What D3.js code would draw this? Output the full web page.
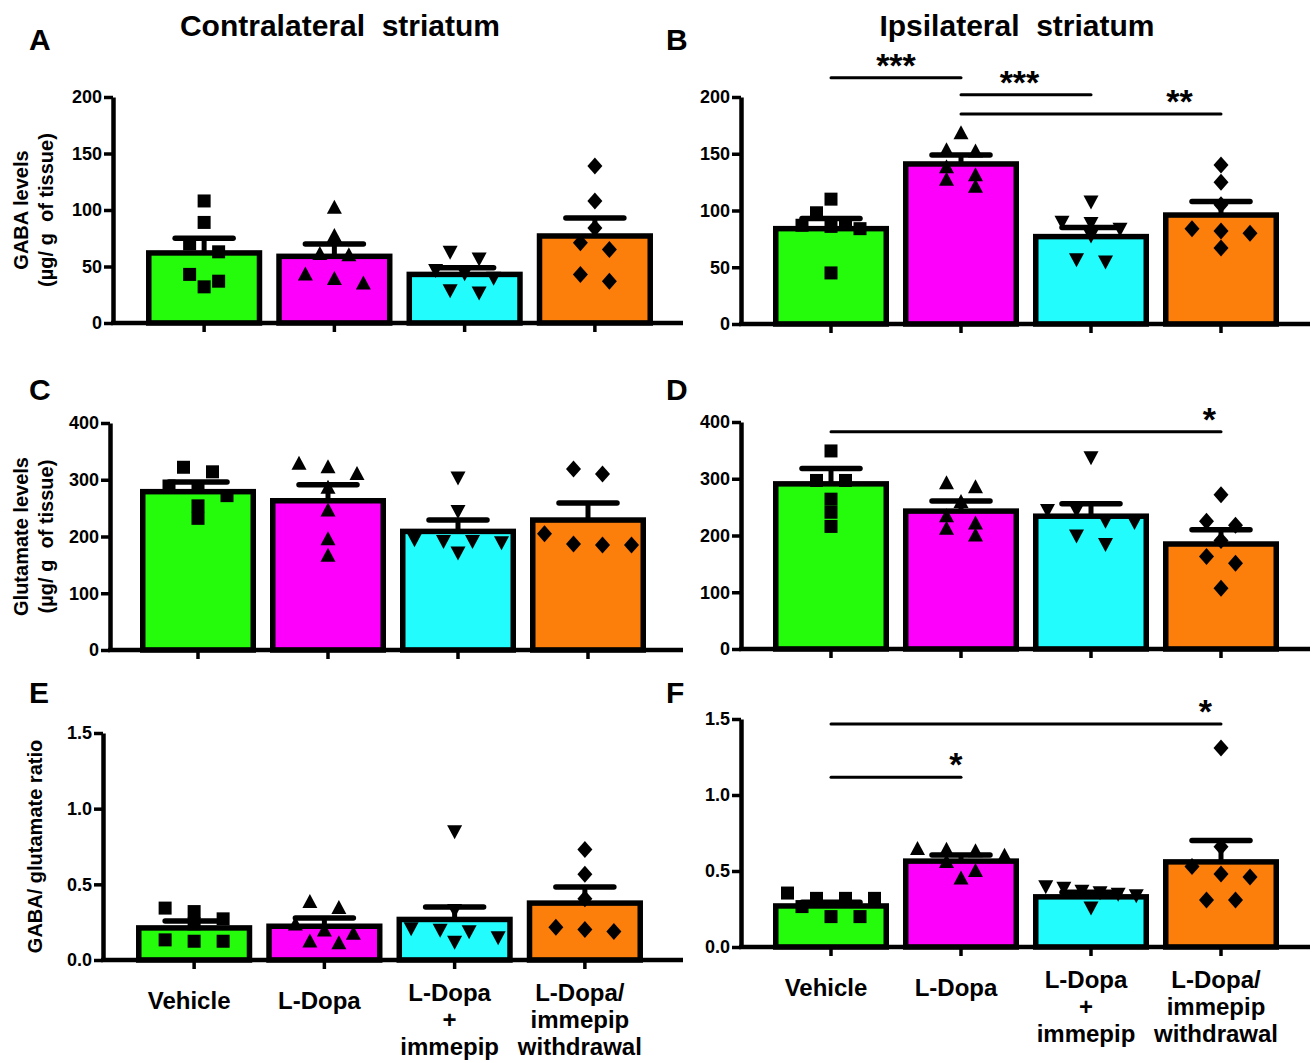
<!DOCTYPE html>
<html>
<head>
<meta charset="utf-8">
<script src="https://cdn.jsdelivr.net/npm/d3@7"></script>
<style>
  body { margin: 0; background: #fff; }
  svg { display: block; font-family: "Liberation Sans", Arial, Helvetica, sans-serif; font-weight: bold; }
</style>
</head>
<body>
<svg id="chart" width="1312" height="1063"></svg>
<script>
const groups = ["Vehicle", "L-Dopa", "L-Dopa\n+\nimmepip", "L-Dopa/\nimmepip\nwithdrawal"];
const fills = ["#24fc0c", "#fc00fc", "#22fcfc", "#fc7f0c"];
const markerKinds = ["square", "up", "down", "diamond"];

// GABA levels (ug/g tissue)
const gabaContraMean = [62, 59, 43, 77];
const gabaContraSem  = [13, 11, 6, 16];
const gabaContraPts  = [
    [108, 89, 70, 63, 43, 37, 32],
    [102, 77, 61, 60, 43, 39, 35],
    [63, 57, 47, 44, 40, 29, 27],
    [139, 108, 84, 71, 65, 43, 37]
];
const gabaIpsiMean = [84, 141, 77, 96];
const gabaIpsiSem  = [9, 8, 8, 12];
const gabaIpsiPts  = [
    [110, 98, 88, 87, 86, 84, 45],
    [168, 153, 152, 138, 131, 127, 121],
    [108, 90, 89, 84, 78, 57, 55],
    [140, 125, 105, 84, 82, 80, 67]
];

// Glutamate levels (ug/g tissue)
const glutContraMean = [279, 263, 209, 229];
const glutContraSem  = [17, 28, 20, 30];
const glutContraPts  = [
    [322, 314, 289, 287, 272, 254, 232],
    [328, 322, 310, 286, 246, 195, 166],
    [304, 245, 195, 192, 192, 190, 172],
    [319, 310, 205, 187, 185, 185]
];
const glutIpsiMean = [291, 243, 234, 185];
const glutIpsiSem  = [27, 18, 22, 25];
const glutIpsiPts  = [
    [349, 297, 297, 264, 241, 216],
    [292, 285, 259, 234, 221, 212, 200],
    [338, 245, 245, 226, 224, 200, 185],
    [272, 225, 218, 191, 163, 151, 107]
];

// GABA / glutamate ratio
const ratioContraMean = [0.212, 0.223, 0.268, 0.376];
const ratioContraSem  = [0.045, 0.054, 0.082, 0.106];
const ratioContraPts  = [
    [0.343, 0.32, 0.272, 0.239, 0.133, 0.124, 0.124],
    [0.383, 0.343, 0.235, 0.195, 0.173, 0.122, 0.11],
    [0.85, 0.33, 0.21, 0.2, 0.19, 0.15, 0.12],
    [0.73, 0.566, 0.405, 0.217, 0.201, 0.188]
];
const ratioIpsiMean = [0.27, 0.565, 0.33, 0.56];
const ratioIpsiSem  = [0.025, 0.04, 0.03, 0.14];
const ratioIpsiPts  = [
    [0.355, 0.32, 0.32, 0.32, 0.266, 0.2, 0.2],
    [0.645, 0.64, 0.63, 0.6, 0.56, 0.5, 0.45],
    [0.40, 0.39, 0.37, 0.36, 0.35, 0.34, 0.26],
    [1.31, 0.66, 0.53, 0.48, 0.46, 0.31, 0.31]
];

// significance brackets: group a -> group b at value y, star placed at fraction `at`
const sigGabaIpsi  = [
    { a: 0, b: 1, y: 217, label: "***", at: 0.5 },
    { a: 1, b: 2, y: 202, label: "***", at: 0.45 },
    { a: 1, b: 3, y: 185, label: "**",  at: 0.84 }
];
const sigGlutIpsi  = [{ a: 0, b: 3, y: 383, label: "*", at: 0.97 }];
const sigRatioIpsi = [
    { a: 0, b: 3, y: 1.467, label: "*", at: 0.96 },
    { a: 0, b: 1, y: 1.117, label: "*", at: 0.96 }
];

const fmtInt = d3.format("d"), fmt1 = d3.format(".1f");

const panels = [
    { letter: "A", lx: 29,  ly: 50,  ax: 113, top: 97,  base: 323, band: [139, 660],  xEnd: 683,  max: 200, ticks: [0, 50, 100, 150, 200], fmt: fmtInt,
      mean: gabaContraMean, sem: gabaContraSem, pts: gabaContraPts, sig: [], ylab: ["GABA levels", "(µg/ g  of tissue)"] },
    { letter: "B", lx: 666, ly: 50,  ax: 741, top: 97,  base: 324, band: [766, 1286], xEnd: 1310, max: 200, ticks: [0, 50, 100, 150, 200], fmt: fmtInt,
      mean: gabaIpsiMean, sem: gabaIpsiSem, pts: gabaIpsiPts, sig: sigGabaIpsi },
    { letter: "C", lx: 29,  ly: 400, ax: 110, top: 423, base: 650, band: [133, 653],  xEnd: 683,  max: 400, ticks: [0, 100, 200, 300, 400], fmt: fmtInt,
      mean: glutContraMean, sem: glutContraSem, pts: glutContraPts, sig: [], ylab: ["Glutamate levels", "(µg/ g  of tissue)"] },
    { letter: "D", lx: 666, ly: 400, ax: 741, top: 422, base: 649, band: [766, 1286], xEnd: 1310, max: 400, ticks: [0, 100, 200, 300, 400], fmt: fmtInt,
      mean: glutIpsiMean, sem: glutIpsiSem, pts: glutIpsiPts, sig: sigGlutIpsi },
    { letter: "E", lx: 29,  ly: 703, ax: 103, top: 733, base: 960, band: [129, 650],  xEnd: 683,  max: 1.5, ticks: [0, 0.5, 1, 1.5], fmt: fmt1,
      mean: ratioContraMean, sem: ratioContraSem, pts: ratioContraPts, sig: [], ylab: ["GABA/ glutamate ratio"], cats: true },
    { letter: "F", lx: 666, ly: 703, ax: 741, top: 719, base: 947, band: [766, 1286], xEnd: 1310, max: 1.5, ticks: [0, 0.5, 1, 1.5], fmt: fmt1,
      mean: ratioIpsiMean, sem: ratioIpsiSem, pts: ratioIpsiPts, sig: sigRatioIpsi, cats: true }
];

const svg = d3.select("#chart");

const markerPath = {
    square:  () => "M-6.5,-6.5h13v13h-13Z",
    up:      () => "M0,-8L7.5,6L-7.5,6Z",
    down:    () => "M0,8L7.5,-6L-7.5,-6Z",
    diamond: () => "M0,-8.5L7.5,0L0,8.5L-7.5,0Z"
};

// column scatter: points closer than thr px share a row, rows spread around centre
function swarm(vals, y, cx, span, step = 29, thr = 12) {
    const pts = vals.map(v => ({ v, py: y(v) })).sort((a, b) => a.py - b.py);
    const rows = [];
    pts.forEach(p => {
        const r = rows[rows.length - 1];
        if (r && p.py - r[0].py < thr) r.push(p); else rows.push([p]);
    });
    rows.forEach(r => {
        const s = r.length > 1 ? Math.min(step, span / (r.length - 1)) : 0;
        r.forEach((p, i) => { p.px = cx + (i - (r.length - 1) / 2) * s; });
    });
    return pts;
}

svg.append("text").attr("x", 340).attr("y", 36).attr("text-anchor", "middle")
    .attr("font-size", 30).style("white-space", "pre").text("Contralateral  striatum");
svg.append("text").attr("x", 1017).attr("y", 36).attr("text-anchor", "middle")
    .attr("font-size", 30).style("white-space", "pre").text("Ipsilateral  striatum");

panels.forEach(p => {
    const g = svg.append("g");
    const y = d3.scaleLinear().domain([0, p.max]).range([p.base, p.top]);
    const x = d3.scaleBand().domain(groups).range(p.band).paddingInner(0.15).paddingOuter(0.075);
    const bw = x.bandwidth();
    const cx = i => x(groups[i]) + bw / 2;

    g.append("text").attr("x", p.lx).attr("y", p.ly).attr("font-size", 30).text(p.letter);

    // bars
    g.selectAll(".bar").data(p.mean).join("rect")
        .attr("x", (d, i) => x(groups[i])).attr("width", bw)
        .attr("y", d => y(d)).attr("height", d => p.base - y(d))
        .attr("fill", (d, i) => fills[i]).attr("stroke", "#000").attr("stroke-width", 5.5);

    // error bars (mean + SEM)
    const eb = g.selectAll(".eb").data(p.mean).join("g");
    eb.append("line").attr("x1", (d, i) => cx(i)).attr("x2", (d, i) => cx(i))
        .attr("y1", d => y(d)).attr("y2", (d, i) => y(d + p.sem[i]))
        .attr("stroke", "#000").attr("stroke-width", 5);
    eb.append("line").attr("x1", (d, i) => cx(i) - 29).attr("x2", (d, i) => cx(i) + 29)
        .attr("y1", (d, i) => y(d + p.sem[i])).attr("y2", (d, i) => y(d + p.sem[i]))
        .attr("stroke", "#000").attr("stroke-width", 5.5).attr("stroke-linecap", "round");

    // individual animals
    p.pts.forEach((vals, i) => {
        g.selectAll(null).data(swarm(vals, y, cx(i), bw - 20)).join("path")
            .attr("transform", d => `translate(${d.px},${d.py})`)
            .attr("d", markerPath[markerKinds[i]]())
            .attr("fill", "#000");
    });

    // axes
    const ya = g.append("g").attr("transform", `translate(${p.ax},0)`)
        .call(d3.axisLeft(y).tickValues(p.ticks).tickFormat(p.fmt).tickSize(9).tickSizeOuter(0).tickPadding(2));
    ya.select(".domain").attr("stroke-width", 4.5);
    ya.selectAll(".tick line").attr("stroke-width", 3.5);
    ya.selectAll(".tick text").attr("font-size", 18).attr("font-family", null).attr("fill", "#000");

    const xa = g.append("g").attr("transform", `translate(0,${p.base})`)
        .call(d3.axisBottom(x).tickSize(9).tickFormat(""));
    xa.select(".domain").remove();
    xa.selectAll(".tick line").attr("stroke-width", 3.5);
    g.append("line").attr("x1", p.ax - 2).attr("x2", p.xEnd).attr("y1", p.base).attr("y2", p.base)
        .attr("stroke", "#000").attr("stroke-width", 4.5);

    // y-axis title
    if (p.ylab) {
        const mid = (p.top + p.base) / 2;
        const xs = p.ylab.length === 1 ? [42] : [28, 53];
        p.ylab.forEach((t, k) => {
            g.append("text").attr("transform", `translate(${xs[k]},${mid}) rotate(-90)`)
                .attr("text-anchor", "middle").attr("font-size", 20).style("white-space", "pre").text(t);
        });
    }

    // category labels
    if (p.cats) {
        groups.forEach((name, i) => {
            const lines = name.split("\n");
            const t = g.append("text").attr("text-anchor", "middle").attr("font-size", 24);
            lines.forEach((ln, k) => {
                t.append("tspan").attr("x", cx(i) - 5)
                    .attr("y", lines.length === 1 ? p.base + 49 : p.base + 41 + k * 27)
                    .text(ln);
            });
        });
    }

    // significance
    p.sig.forEach(s => {
        const x1 = cx(s.a), x2 = cx(s.b), yy = y(s.y);
        g.append("line").attr("x1", x1).attr("x2", x2).attr("y1", yy).attr("y2", yy)
            .attr("stroke", "#000").attr("stroke-width", 3).attr("stroke-linecap", "round");
        g.append("text").attr("x", x1 + (x2 - x1) * s.at).attr("y", yy - 1)
            .attr("text-anchor", "middle").attr("font-size", 34).text(s.label);
    });
});
</script>
</body>
</html>
